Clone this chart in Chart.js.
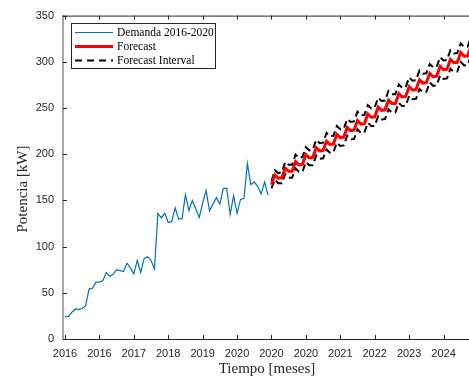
<!DOCTYPE html>
<html lang="es">
<head>
<meta charset="UTF-8">
<title>Demanda y pronóstico</title>
<script src="https://cdn.jsdelivr.net/npm/chart.js"></script>
<style>
  html, body { margin: 0; padding: 0; background: #fff; }
  #wrap { width: 469px; height: 382px; }
</style>
</head>
<body>
<div id="wrap"><canvas id="demandChart" width="469" height="382"></canvas></div>
<script>
// monthly demand 2016-2020 [kW], sample index 0..59
const demanda = [24, 24.5, 29, 32.5, 32, 33, 36, 54, 55, 61.5,
                 61.5, 63, 72, 68, 70, 75, 74, 73, 82, 77,
                 70.5, 85, 72, 87, 89, 85, 76, 136, 131, 136,
                 126, 127, 142, 130, 130, 156, 139, 150, 141, 131.5,
                 147, 161, 139, 146, 153, 146, 163, 163, 135, 155,
                 136, 151, 152, 190, 167, 170, 165, 157, 170, 156];

// forecast from index 60 on
const forecastStart = 60;
const forecast = [167, 177.5, 174, 174.5, 185, 181.5, 181.5, 192, 188.5, 189,
                  199.5, 196, 196.5, 207, 203.5, 204, 214, 210.5, 211, 221.5,
                  218, 218.5, 229, 225.5, 226, 236.5, 232.5, 233, 243.5, 240,
                  240.5, 251, 247.5, 248, 258.5, 255, 255, 265.5, 262, 262.5,
                  273, 269.5, 270, 280.5, 277, 277.5, 287.5, 284, 284.5, 295,
                  291.5, 292, 302.5, 299, 299.5, 310, 306, 306.5, 317, 313.5];
const upperInt = [171, 182.5, 179.5, 180.5, 191.5, 188.5, 188.5, 199.5, 196, 197,
                  207.5, 204, 205, 215.5, 212, 212.5, 223, 219.5, 220, 230.5,
                  227, 227.5, 238, 235, 235.5, 246, 242, 242.5, 253, 249.5,
                  250.5, 261, 257.5, 258, 268.5, 265, 265, 275.5, 272, 272.5,
                  283, 279.5, 280, 290.5, 287, 287.5, 297.5, 294, 294.5, 305,
                  301.5, 302, 312.5, 309, 309.5, 320, 316, 316.5, 327, 323.5];
const lowerInt = [163, 172.5, 168.5, 168.5, 178.5, 174.5, 174.5, 184.5, 181, 181,
                  191.5, 188, 188, 198.5, 195, 195.5, 205, 201.5, 202, 212.5,
                  209, 209.5, 220, 216, 216.5, 227, 223, 223.5, 234, 230.5,
                  230.5, 241, 237.5, 238, 248.5, 245, 245, 255.5, 252, 252.5,
                  263, 259.5, 260, 270.5, 267, 267.5, 277.5, 274, 274.5, 285,
                  281.5, 282, 292.5, 289, 289.5, 300, 296, 296.5, 307, 303.5];

const xTicks = [0, 10, 20, 30, 40, 50, 60, 70, 80, 90, 100, 110];
const xTickLabels = ['2016', '2016', '2017', '2018', '2019', '2020', '2020', '2020', '2021', '2022', '2023', '2024'];
const yTicks = [0, 50, 100, 150, 200, 250, 300, 350];

const axisColor = '#262626';
const tickFont = { family: 'Liberation Sans', size: 11 };

function toPoints(values, start) {
    return values.map((v, i) => ({ x: start + i, y: v }));
}

// inward ticks, top box line, axis titles and the boxed legend (MATLAB look)
const matlabFrame = {
    id: 'matlabFrame',
    afterDraw(chart) {
        const ctx = chart.ctx;
        const area = chart.chartArea;
        const xs = chart.scales.x, ys = chart.scales.y;
        ctx.save();
        ctx.strokeStyle = axisColor;
        ctx.lineWidth = 1;
        ctx.beginPath();
        ctx.moveTo(area.left, area.top + 0.5);
        ctx.lineTo(area.right, area.top + 0.5);
        xTicks.forEach(v => {
            const px = Math.round(xs.getPixelForValue(v)) + 0.5;
            ctx.moveTo(px, area.bottom);
            ctx.lineTo(px, area.bottom - 4);
            ctx.moveTo(px, area.top);
            ctx.lineTo(px, area.top + 4);
        });
        yTicks.forEach(v => {
            const py = Math.round(ys.getPixelForValue(v)) + 0.5;
            ctx.moveTo(area.left, py);
            ctx.lineTo(area.left + 4, py);
        });
        ctx.stroke();

        // axis titles
        ctx.fillStyle = axisColor;
        ctx.font = '15px "Liberation Serif"';
        ctx.textAlign = 'center';
        ctx.textBaseline = 'middle';
        ctx.fillText('Tiempo [meses]', 267, 369);
        ctx.translate(23, 189);
        ctx.rotate(-Math.PI / 2);
        ctx.fillText('Potencia [kW]', 0, 0);
        ctx.setTransform(1, 0, 0, 1, 0, 0);

        // legend
        const bx = 71.5, by = 23.5, bw = 144, bh = 45;
        ctx.fillStyle = '#fff';
        ctx.fillRect(bx, by, bw, bh);
        ctx.strokeStyle = axisColor;
        ctx.lineWidth = 1;
        ctx.strokeRect(bx, by, bw, bh);
        const entries = [
            { text: 'Demanda 2016-2020', color: '#0072BD', width: 1.2, dash: [] },
            { text: 'Forecast', color: '#ff0000', width: 3, dash: [] },
            { text: 'Forecast Interval', color: '#000', width: 2, dash: [7, 5] }
        ];
        ctx.font = '11.5px "Liberation Serif"';
        ctx.textAlign = 'left';
        entries.forEach((e, i) => {
            const ry = 32.5 + i * 14;
            ctx.beginPath();
            ctx.strokeStyle = e.color;
            ctx.lineWidth = e.width;
            ctx.setLineDash(e.dash);
            ctx.moveTo(75, ry);
            ctx.lineTo(113, ry);
            ctx.stroke();
            ctx.setLineDash([]);
            ctx.fillStyle = '#000';
            ctx.fillText(e.text, 117, ry);
        });
        ctx.restore();
    }
};

const ctx = document.getElementById('demandChart').getContext('2d');
new Chart(ctx, {
    type: 'line',
    data: {
        datasets: [
            {
                label: 'Demanda 2016-2020',
                data: toPoints(demanda, 0),
                borderColor: '#0072BD',
                borderWidth: 1.2,
                order: 4
            },
            {
                label: 'Forecast Interval',
                data: toPoints(upperInt, forecastStart),
                borderColor: '#000',
                borderWidth: 2,
                borderDash: [7, 4],
                order: 3
            },
            {
                label: 'Forecast Interval (lower)',
                data: toPoints(lowerInt, forecastStart),
                borderColor: '#000',
                borderWidth: 2,
                borderDash: [7, 4],
                order: 2
            },
            {
                label: 'Forecast',
                data: toPoints(forecast, forecastStart),
                borderColor: '#ff0000',
                borderWidth: 3,
                order: 1
            }
        ]
    },
    options: {
        responsive: false,
        animation: false,
        devicePixelRatio: 1,
        elements: {
            point: { radius: 0 },
            line: { tension: 0, fill: false }
        },
        layout: { padding: { top: 13, left: 0, right: 0, bottom: 0 } },
        plugins: {
            legend: { display: false },
            tooltip: { enabled: false }
        },
        scales: {
            x: {
                type: 'linear',
                min: -0.58,
                max: 117.4,
                afterFit: s => { s.height = 43; },
                afterBuildTicks: s => { s.ticks = xTicks.map(v => ({ value: v })); },
                grid: { drawOnChartArea: false, drawTicks: false },
                border: { color: axisColor, width: 1 },
                ticks: {
                    autoSkip: false,
                    maxRotation: 0,
                    padding: 8,
                    color: axisColor,
                    font: tickFont,
                    callback: (v, i) => xTickLabels[i]
                }
            },
            y: {
                min: 0,
                max: 350,
                afterFit: s => { s.width = 63; },
                afterBuildTicks: s => { s.ticks = yTicks.map(v => ({ value: v })); },
                grid: { drawOnChartArea: false, drawTicks: false },
                border: { color: '#a6a6a6', width: 2 },
                ticks: {
                    padding: 9,
                    color: axisColor,
                    font: tickFont
                }
            }
        }
    },
    plugins: [matlabFrame]
});
</script>
</body>
</html>
